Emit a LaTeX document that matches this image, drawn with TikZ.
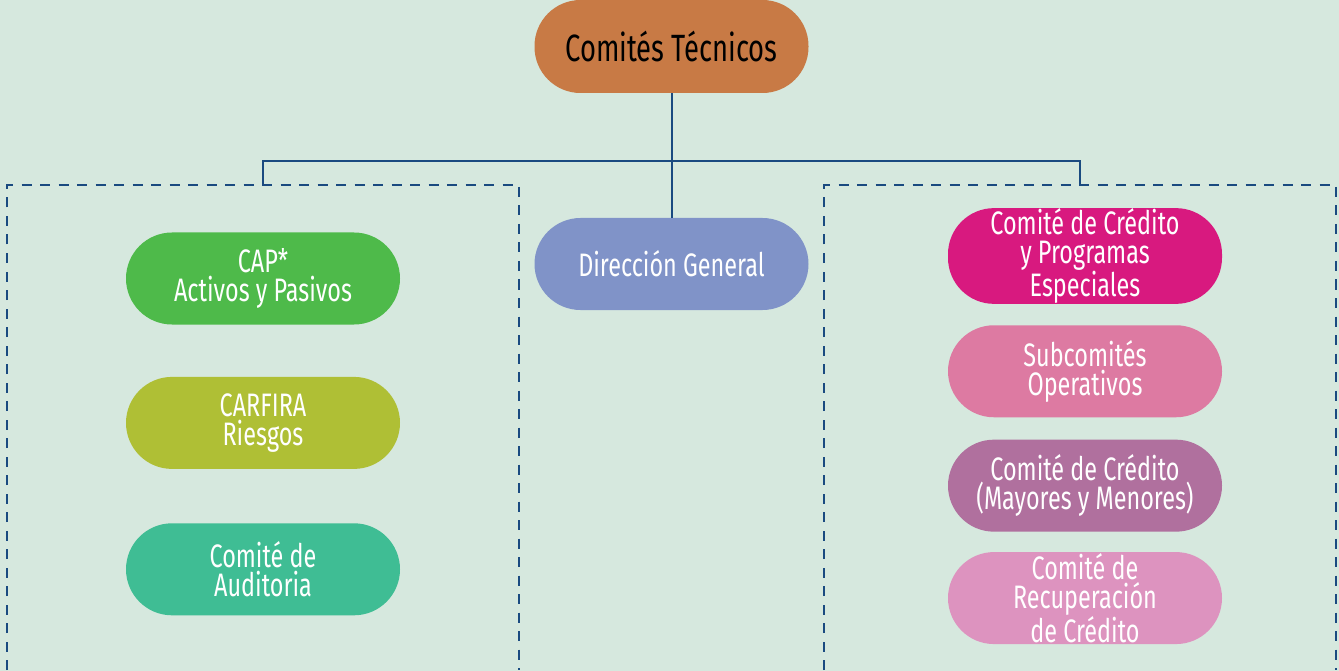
\documentclass[tikz,border=0pt]{standalone}
\usepackage{fontspec}
\setmainfont{Fira Sans}[FakeStretch=0.72]
\usetikzlibrary{positioning}
\definecolor{bgcol}{HTML}{D6E8DE}
\definecolor{linecol}{HTML}{1A4A80}
\definecolor{topcol}{HTML}{C87A45}
\definecolor{dircol}{HTML}{8093C8}
\definecolor{capcol}{HTML}{4EBA4A}
\definecolor{riskcol}{HTML}{AFBF35}
\definecolor{audcol}{HTML}{3FBD94}
\definecolor{credcol}{HTML}{D8197F}
\definecolor{subcol}{HTML}{DD7AA2}
\definecolor{maycol}{HTML}{B0709E}
\definecolor{reccol}{HTML}{DD93BF}
\tikzstyle{pill} = [rectangle, rounded corners=46pt, minimum width=274pt, minimum height=92pt, text centered, align=center, text=white, font=\fontsize{32.5}{29.5}\selectfont, inner sep=0pt]
\tikzstyle{link} = [draw=linecol, line width=2pt]
\tikzstyle{group} = [draw=linecol, line width=2pt, dash pattern=on 10pt off 8.5pt]

\begin{document}
\begin{tikzpicture}[x=1pt, y=-1pt, node distance=21pt]
    \useasboundingbox [fill=bgcol] (0,0) rectangle (1339,671);

    \node (top) [pill, fill=topcol, text=black, minimum height=93pt, font=\fontsize{38}{38}\selectfont] at (671.5,46.5) {Comités Técnicos};
    \node (dir) [pill, fill=dircol] at (671.5,264) {Dirección General};

    \node (cap) [pill, fill=capcol] at (263,278.5) {CAP*\\Activos y Pasivos};
    \node (carfira) [pill, fill=riskcol, below=52pt of cap] {CARFIRA\\Riesgos};
    \node (audit) [pill, fill=audcol, below=54pt of carfira] {Comité de\\Auditoria};

    \node (credito) [pill, fill=credcol] at (1085,256) {Comité de Crédito\\y Programas\\Especiales};
    \node (subcom) [pill, fill=subcol, below=of credito] {Subcomités\\Operativos};
    \node (mayores) [pill, fill=maycol, below=22pt of subcom] {Comité de Crédito\\(Mayores y Menores)};
    \node (recup) [pill, fill=reccol, below=20pt of mayores] {Comité de\\Recuperación\\de Crédito};

    % group frames
    \coordinate (lgrp) at (263,185);
    \coordinate (rgrp) at (1080,185);
    \draw [group] (7,670) -- (7,185) -- (519,185) -- (519,670);
    \draw [group] (824,670) -- (824,185) -- (1336,185) -- (1336,670);

    \draw [link] (top) -- (dir);
    \draw [link] (lgrp) -- (lgrp |- 0,161) -- (rgrp |- 0,161) -- (rgrp);

  \end{tikzpicture}
\end{document}
